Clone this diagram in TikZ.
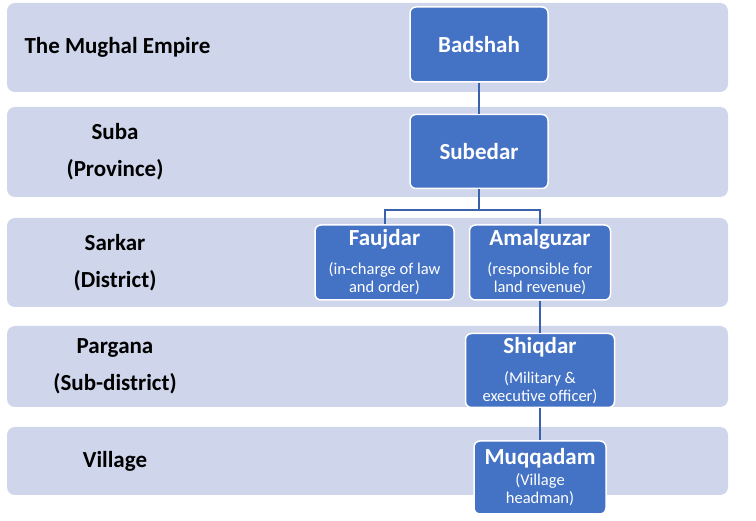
\documentclass[tikz,border=0pt]{standalone}
\usepackage{fontspec}
\setmainfont{Carlito}
\usetikzlibrary{positioning}
\definecolor{bandfill}{HTML}{CFD5EA}
\definecolor{boxfill}{HTML}{4472C4}
\definecolor{linkblue}{HTML}{3A62AC}
\newcommand{\rolename}[1]{{\fontsize{23}{26}\selectfont\bfseries #1}}

\begin{document}
\begin{tikzpicture}[
    x=1pt, y=-1pt,
    node distance=32pt and 14pt,
    band/.style={fill=bandfill, rounded corners=8pt},
    level_label/.style={font=\fontsize{23}{37}\selectfont\bfseries, align=center},
    role_node/.style={draw=white, line width=1.5pt, fill=boxfill, rounded corners=6pt, text=white,
        align=center, font=\fontsize{16.5}{18}\selectfont, inner sep=0pt, minimum height=74pt},
    link/.style={draw=linkblue, line width=2pt}
]
\useasboundingbox (0,0) rectangle (756,521);

% --- BANDS ---
\foreach \top/\bot in {3/92, 107/197, 218/307, 326/407, 427/495}
    \fill[band] (7,\top) rectangle (728,\bot);

% --- LEVEL LABELS ---
\node[level_label, anchor=west] (empire) at (21,47.5) {The Mughal Empire};
\node[level_label] (suba) at (115,152) {Suba\\(Province)};
\node[level_label] (sarkar) at (115,262.5) {Sarkar\\(District)};
\node[level_label] (pargana) at (115,366.5) {Pargana\\(Sub-district)};
\node[level_label] (village) at (115,461) {Village};

% --- NODES ---
\node[role_node, minimum width=138pt, minimum height=75pt] (badshah) at (479,44.5) {\rolename{Badshah}};
\node[role_node, minimum width=138pt, below=31pt of badshah] (subedar) {\rolename{Subedar}};

\node[role_node, minimum width=139pt, minimum height=75pt] (faujdar) at (384.5,262.5)
    {\rolename{Faujdar}\\[11pt](in-charge of law\\and order)};
\node[role_node, minimum width=141pt, minimum height=75pt, right=of faujdar] (amalguzar)
    {\rolename{Amalguzar}\\[11pt](responsible for\\land revenue)};

\node[role_node, minimum width=149pt, below=of amalguzar] (shiqdar)
    {\rolename{Shiqdar}\\[12pt](Military \&\\executive officer)};
\node[role_node, minimum width=132pt, minimum height=73pt, below=of shiqdar] (muqqadam)
    {\rolename{Muqqadam}\\[3pt](Village\\headman)};

% --- EDGES ---
\draw[link] (badshah) -- (subedar);
\draw[link] (subedar.south) -- ++(0,21) coordinate (split) -| (faujdar.north);
\draw[link] (split) -| (amalguzar.north);
\draw[link] (amalguzar) -- (shiqdar);
\draw[link] (shiqdar) -- (muqqadam);

\end{tikzpicture}
\end{document}
